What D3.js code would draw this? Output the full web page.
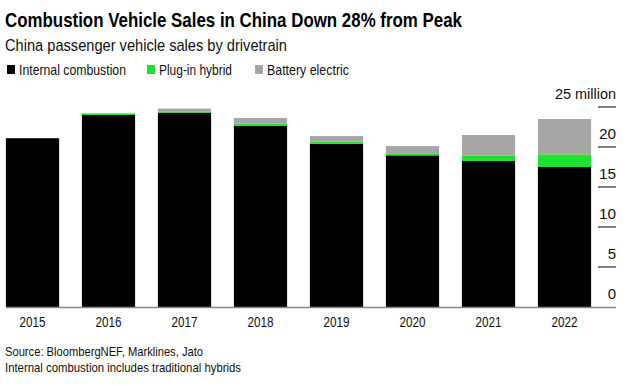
<!DOCTYPE html>
<html>
<head>
<meta charset="utf-8">
<script src="https://cdn.jsdelivr.net/npm/d3@7"></script>
<style>
  body { margin: 0; background: #fff; }
  text { font-family: "Liberation Sans", Arial, sans-serif; }
</style>
</head>
<body>
<div id="chart"></div>
<script>
// Data (million vehicles)
const years = ["2015", "2016", "2017", "2018", "2019", "2020", "2021", "2022"];
const internalCombustion = [21.1, 24.0, 24.3, 22.65, 20.4, 18.95, 18.25, 17.5];
const plugInHybrid = [0.0, 0.2, 0.1, 0.3, 0.3, 0.25, 0.67, 1.58];
const batteryElectric = [0.0, 0.0, 0.4, 0.67, 0.67, 0.92, 2.58, 4.42];
const seriesNames = ["Internal combustion", "Plug-in hybrid", "Battery electric"];
const yTicks = [0, 5, 10, 15, 20, 25];

const colors = ["#000000", "#1fe02c", "#a6a6a6"];

const W = 626, H = 386;
const svg = d3.select("#chart").append("svg")
    .attr("width", W)
    .attr("height", H);

// narrow-looking text: squeeze glyphs to a target width
function narrow(sel, len) {
    sel.attr("textLength", len).attr("lengthAdjust", "spacingAndGlyphs");
}

// Titles
svg.append("text").attr("x", 5).attr("y", 27)
    .style("font-size", "21px").style("font-weight", "bold")
    .text("Combustion Vehicle Sales in China Down 28% from Peak")
    .call(narrow, 457);
svg.append("text").attr("x", 5).attr("y", 51)
    .style("font-size", "17px").attr("fill", "#111")
    .text("China passenger vehicle sales by drivetrain")
    .call(narrow, 282);

// Legend
const legendX = [7, 147, 255];
const legendLen = [107, 73, 82];
const legend = svg.selectAll("g.legend")
    .data(seriesNames)
    .enter().append("g")
    .attr("transform", (d, i) => `translate(${legendX[i]},65)`);
legend.append("rect").attr("width", 8).attr("height", 9).attr("fill", (d, i) => colors[i]);
legend.append("text").attr("x", 12).attr("y", 9.5)
    .style("font-size", "15px").attr("fill", "#111")
    .attr("textLength", (d, i) => legendLen[i])
    .attr("lengthAdjust", "spacingAndGlyphs")
    .text(d => d);

// Scales
const x = d3.scaleBand().domain(years).range([-5.5, 602.5])
    .paddingInner(0.3).paddingOuter(0.15);
const y = d3.scaleLinear().domain([0, 25]).range([307, 107]);

// Stack
const rows = years.map((yr, i) => ({
    year: yr,
    ice: internalCombustion[i],
    phev: plugInHybrid[i],
    bev: batteryElectric[i]
}));
const stack = d3.stack().keys(["ice", "phev", "bev"]);
const layers = stack(rows);

svg.selectAll("g.layer")
    .data(layers)
    .enter().append("g")
    .attr("fill", (d, i) => colors[i])
    .selectAll("rect")
    .data(d => d)
    .enter().append("rect")
    .attr("x", d => x(d.data.year))
    .attr("width", x.bandwidth())
    .attr("y", d => y(d[1]))
    .attr("height", d => y(d[0]) - y(d[1]));

// Y axis: short tick lines with labels above
const yAxis = svg.append("g");
yAxis.selectAll("line")
    .data(yTicks.filter(t => t > 0))
    .enter().append("line")
    .attr("x1", 598).attr("x2", 616)
    .attr("y1", d => y(d)).attr("y2", d => y(d))
    .attr("stroke", "#000").attr("stroke-width", 1);
yAxis.selectAll("text")
    .data(yTicks)
    .enter().append("text")
    .attr("x", 616)
    .attr("y", d => y(d) - 8)
    .attr("text-anchor", "end")
    .style("font-size", "15px").attr("fill", "#111")
    .text(d => d === 25 ? "25 million" : d)
    .each(function(d) {
        if (d === 25) narrow(d3.select(this), 61);
        else if (d >= 10) narrow(d3.select(this), 17);
    });

// Baseline
svg.append("line")
    .attr("x1", 6).attr("x2", 616)
    .attr("y1", y(0) + 0.5).attr("y2", y(0) + 0.5)
    .attr("stroke", "#888").attr("stroke-width", 1.5);

// X axis labels
svg.append("g")
    .attr("transform", `translate(0,${y(0)})`)
    .call(d3.axisBottom(x).tickSize(0).tickPadding(9))
    .call(g => g.select(".domain").remove())
    .selectAll("text")
    .style("font-size", "15px").attr("fill", "#111")
    .style("font-family", "\"Liberation Sans\", Arial, sans-serif")
    .call(narrow, 26);

// Footer
svg.append("text").attr("x", 5).attr("y", 356)
    .style("font-size", "13.5px").attr("fill", "#111")
    .text("Source: BloombergNEF, Marklines, Jato")
    .call(narrow, 198);
svg.append("text").attr("x", 5).attr("y", 372)
    .style("font-size", "13.5px").attr("fill", "#111")
    .text("Internal combustion includes traditional hybrids")
    .call(narrow, 236);
</script>
</body>
</html>
